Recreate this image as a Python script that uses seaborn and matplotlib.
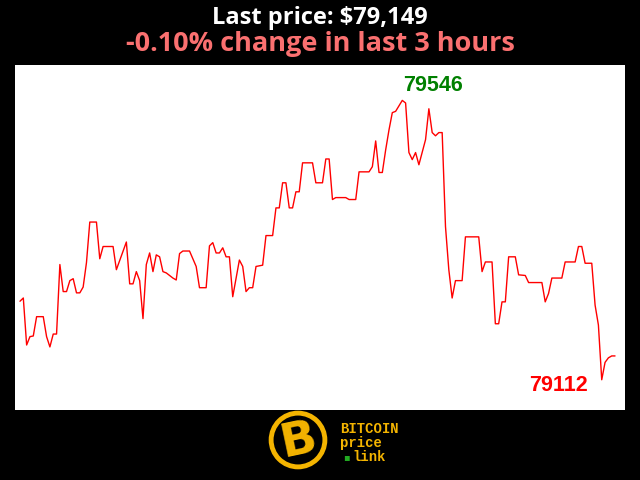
import numpy as np
import pandas as pd
import seaborn as sns
import matplotlib.pyplot as plt
from matplotlib.patches import Circle

# price over the last 3 hours (minute index, USD)
minutes = [0, 1, 2, 3, 4, 5, 7, 8, 9, 10, 11, 12, 13, 14, 15, 16, 17, 18, 19, 20,
           21, 23, 24, 25, 28, 29, 32, 33, 34, 35, 36, 37, 38, 39, 40, 41, 42, 43, 44, 46,
           47, 48, 49, 51, 53, 54, 56, 57, 58, 59, 60, 61, 62, 63, 64, 66, 67, 68, 69, 70,
           71, 73, 74, 76, 77, 78, 79, 80, 81, 82, 83, 84, 85, 88, 89, 91, 92, 93, 94, 95,
           98, 99, 101, 102, 105, 106, 107, 108, 109, 110, 111, 112, 113, 115, 116, 117, 118, 119, 120, 122,
           123, 124, 125, 126, 127, 128, 129, 130, 131, 133, 134, 138, 139, 140, 142, 143, 144, 145, 146, 147,
           149, 150, 152, 153, 157, 158, 159, 160, 163, 164, 167, 168, 169, 170, 172, 173, 174, 175, 176, 177,
           178, 179]
prices = [79234, 79239, 79166, 79179, 79180, 79210, 79210, 79179, 79163, 79183, 79183, 79291, 79249, 79249, 79266, 79269, 79247, 79247, 79256, 79294,
          79357, 79357, 79300, 79319, 79319, 79283, 79326, 79261, 79261, 79280, 79266, 79207, 79291, 79309, 79280, 79306, 79303, 79280, 79278, 79270,
          79267, 79308, 79312, 79312, 79288, 79255, 79255, 79320, 79325, 79309, 79309, 79317, 79303, 79303, 79241, 79298, 79288, 79249, 79255, 79255,
          79288, 79290, 79336, 79336, 79379, 79379, 79418, 79418, 79379, 79379, 79404, 79404, 79449, 79449, 79418, 79418, 79455, 79455, 79392, 79395,
          79395, 79392, 79392, 79435, 79435, 79443, 79483, 79434, 79434, 79469, 79500, 79527, 79529, 79546, 79542, 79465, 79454, 79465, 79446, 79485,
          79533, 79496, 79491, 79496, 79496, 79350, 79283, 79239, 79266, 79266, 79334, 79334, 79280, 79295, 79295, 79199, 79199, 79233, 79233, 79303,
          79303, 79275, 79274, 79263, 79263, 79233, 79246, 79270, 79270, 79295, 79295, 79319, 79319, 79293, 79293, 79228, 79197, 79112, 79139, 79146,
          79149, 79149]

last_price = 79149
change_pct = -0.10
hours = 3

df = pd.DataFrame({"minute": minutes, "price": prices})

sns.set_style("white")
plt.rcParams['font.family'] = ['Open Sans', 'DejaVu Sans']

fig = plt.figure(figsize=(6.4, 4.8), dpi=100, facecolor="black")
ax = fig.add_axes([15 / 640, 70 / 480, 610 / 640, 345 / 480])
ax.set_facecolor("white")

sns.lineplot(data=df, x="minute", y="price", color="red", linewidth=1, ax=ax)

ax.set_xlim(-1.5, 182)
ax.set_ylim(79065, 79601)
ax.set_xticks([])
ax.set_yticks([])
ax.set_xlabel("")
ax.set_ylabel("")
for s in ax.spines.values():
    s.set_visible(False)

# max / min labels
imax = df["price"].idxmax()
imin = df["price"].idxmin()
ax.annotate(f"{df.price[imax]}", (df.minute[imax], df.price[imax]),
            xytext=(0.5, 3), textcoords="offset points", ha="left", va="bottom",
            color="green", fontsize=15.5, fontweight="bold", family="Liberation Sans")
ax.annotate(f"{df.price[imin]}", (df.minute[imin], df.price[imin]),
            xytext=(-10, -4), textcoords="offset points", ha="right", va="center",
            color="red", fontsize=15.5, fontweight="bold", family="Liberation Sans")

fig.text(0.5, 0.962, f"Last price: ${last_price:,}", color="white", fontsize=17,
         fontweight="bold", ha="center", va="center")
fig.text(0.5, 0.908, f"{change_pct:.2f}% change in last {hours} hours", color="#fa7070",
         fontsize=19.5, fontweight="bold", ha="center", va="center")

# logo
lax = fig.add_axes([266 / 640, 8 / 480, 64 / 640, 64 / 480])
lax.set_xlim(-1, 1)
lax.set_ylim(-1, 1)
lax.set_aspect("equal")
lax.axis("off")
lax.add_patch(Circle((0, 0), 0.84, facecolor="black", edgecolor="#f4b400", linewidth=3.5))
lax.text(0.02, -0.02, "B", color="#f4b400", fontsize=34, fontweight="bold", ha="center",
         va="center", rotation=12, family="DejaVu Sans")
for i, word in enumerate(["BITCOIN", "price", "link"]):
    fig.text(340 / 640 + (12 / 640 if i == 2 else 0), (480 - 429 - i * 14) / 480, word,
             color="#f4b400", fontsize=10, fontweight="bold", family="Liberation Mono",
             ha="left", va="center")
fig.text(346 / 640, (480 - 457) / 480, "\u25aa", color="#22aa22", fontsize=7,
         ha="center", va="center", family="DejaVu Sans")

fig.savefig("out.png", dpi=100, facecolor="black")
